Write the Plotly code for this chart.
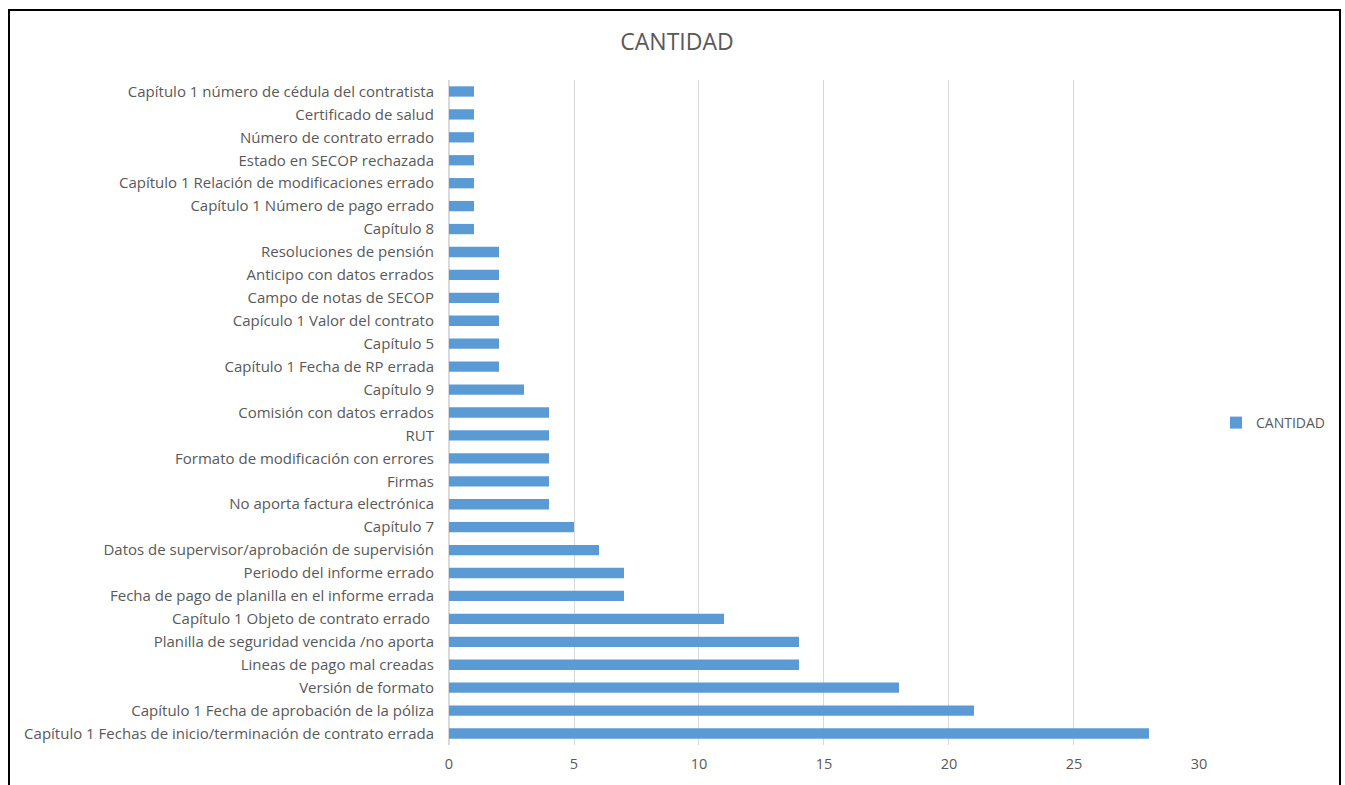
import plotly.graph_objects as go

categories = [
    "Capítulo 1 número de cédula del contratista",
    "Certificado de salud",
    "Número de contrato errado",
    "Estado en SECOP rechazada",
    "Capítulo 1 Relación de modificaciones errado",
    "Capítulo 1 Número de pago errado",
    "Capítulo 8",
    "Resoluciones de pensión",
    "Anticipo con datos errados",
    "Campo de notas de SECOP",
    "Capículo 1 Valor del contrato",
    "Capítulo 5",
    "Capítulo 1 Fecha de RP errada",
    "Capítulo 9",
    "Comisión con datos errados",
    "RUT",
    "Formato de modificación con errores",
    "Firmas",
    "No aporta factura electrónica",
    "Capítulo 7",
    "Datos de supervisor/aprobación de supervisión",
    "Periodo del informe errado",
    "Fecha de pago de planilla en el informe errada",
    "Capítulo 1 Objeto de contrato errado ",
    "Planilla de seguridad vencida /no aporta",
    "Lineas de pago mal creadas",
    "Versión de formato",
    "Capítulo 1 Fecha de aprobación de la póliza",
    "Capítulo 1 Fechas de inicio/terminación de contrato errada",
]
cantidad = [1, 1, 1, 1, 1, 1, 1, 2, 2, 2, 2, 2, 2, 3, 4, 4, 4, 4, 4, 5, 6, 7, 7, 11, 14, 14, 18, 21, 28]
x_ticks = [0, 5, 10, 15, 20, 25, 30]

FONT = "Open Sans"
GREY = "#595959"

fig = go.Figure()
fig.add_trace(go.Bar(
    y=categories, x=cantidad, orientation="h", name="CANTIDAD",
    marker=dict(color="#5b9bd5", line=dict(width=0)), width=0.45,
))

L, R, T, B = 449, 1199, 80, 745
W, H = 1345, 785

def px(x):
    return (x - L) / (R - L)

def py(y):
    return (B - y) / (B - T)

fig.update_layout(
    width=W, height=H,
    margin=dict(l=L, r=W - R, t=T, b=H - B, autoexpand=False),
    paper_bgcolor="white", plot_bgcolor="white",
    font=dict(family=FONT, size=15, color=GREY),
    title=dict(text="CANTIDAD", x=677 / W, xanchor="center", y=1 - 42 / H, yanchor="middle",
               font=dict(family=FONT, size=23, color=GREY)),
    showlegend=True,
    legend=dict(x=px(1216), y=py(423), xanchor="left", yanchor="middle",
                font=dict(family=FONT, size=14, color=GREY), itemwidth=30),
    xaxis=dict(range=[0, 30.001], tickvals=x_ticks, showgrid=True, gridcolor="#d9d9d9", gridwidth=1,
               zeroline=True, zerolinecolor="#d9d9d9", showline=False, ticks="",
               tickfont=dict(family=FONT, size=14.5, color=GREY), ticklabelstandoff=8, automargin=False),
    yaxis=dict(autorange="reversed", type="category", showgrid=False, ticks="", automargin=False,
               showline=False, tickfont=dict(family=FONT, size=15, color=GREY), ticklabelstandoff=14),
    shapes=[dict(type="rect", xref="paper", yref="paper",
                 x0=px(9), x1=px(1340), y0=py(795), y1=py(10),
                 line=dict(color="black", width=2))],
)

fig.write_html("out.html")
